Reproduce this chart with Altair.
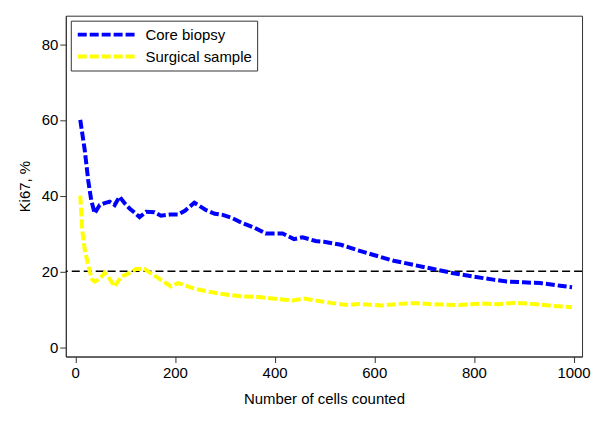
import altair as alt
import pandas as pd

core_n = [10, 19, 26, 32, 39, 49, 59, 69, 79, 89, 99, 109, 119, 129, 142, 159, 172, 190, 206, 220,
          239, 262, 280, 296, 316, 336, 360, 382, 400, 416, 439, 456, 482, 499, 533, 566, 599, 639,
          679, 719, 759, 799, 839, 866, 899, 933, 973, 997]
core_v = [60, 52, 44, 38.8, 35.3, 37.5, 38, 38.4, 37.5, 39.7, 38, 36.6, 35.5, 34.3, 35.7, 35.6, 34.7, 35, 35, 36,
          38.1, 36.2, 35.2, 34.9, 34, 32.7, 31.5, 30, 30, 30, 28.5, 29, 28, 27.8, 27, 25.6, 24.3, 22.8,
          21.7, 20.6, 19.5, 18.6, 17.8, 17.3, 17.1, 16.9, 16.2, 15.8]

surg_n = [10, 14, 19, 28, 34, 39, 49, 59, 69, 79, 92, 102, 122, 139, 162, 192, 206, 242, 289, 332,
          369, 396, 436, 459, 482, 516, 549, 569, 616, 649, 683, 716, 769, 816, 849, 883, 916, 956, 997]
surg_v = [40, 30.9, 25.7, 20.4, 17.8, 17.3, 18, 19.6, 18, 16, 18.6, 19.1, 20.6, 20.6, 18.6, 16, 16.9, 15.3, 14.1, 13.4,
          13.2, 12.8, 12.3, 12.8, 12.3, 11.6, 11.1, 11.4, 11, 11.4, 11.6, 11.3, 11.1, 11.5, 11.3, 11.7, 11.4, 10.9, 10.5]

series_names = ["Core biopsy", "Surgical sample"]
series_colors = ["#0000FF", "#FFFF00"]
threshold = [20]
x_ticks = [0, 200, 400, 600, 800, 1000]
y_ticks = [0, 20, 40, 60, 80]

df = pd.concat([
    pd.DataFrame({"n": core_n, "v": core_v, "series": series_names[0], "order": 0}),
    pd.DataFrame({"n": surg_n, "v": surg_v, "series": series_names[1], "order": 1}),
])
ref = pd.DataFrame({"y": threshold})

FONT = "Liberation Sans"

x_enc = alt.X("n:Q", scale=alt.Scale(domain=[-19, 1017], nice=False, zero=False),
              axis=alt.Axis(values=x_ticks, format="d", title="Number of cells counted", grid=False,
                            titlePadding=11, labelPadding=3))
y_enc = alt.Y("v:Q", scale=alt.Scale(domain=[-2.5, 87.5], nice=False, zero=False),
              axis=alt.Axis(values=y_ticks, format="d", title="Ki67, %", grid=False, titlePadding=9,
                            labelPadding=2))

lines = alt.Chart(df).mark_line(strokeWidth=4, strokeDash=[9, 3]).encode(
    x=x_enc,
    y=y_enc,
    color=alt.Color("series:N",
                    scale=alt.Scale(domain=series_names, range=series_colors),
                    legend=alt.Legend(title=None, orient="none", legendX=5, legendY=5,
                                      direction="vertical",
                                      symbolType="stroke", symbolSize=3481,
                                      symbolStrokeWidth=4, symbolDash=[9, 3],
                                      labelFontSize=15, labelFont=FONT, labelColor="black",
                                      labelOffset=7, padding=5, rowPadding=4, clipHeight=18,
                                      strokeColor="#333", fillColor="white")),
    detail="series:N",
    order="order:Q",
)

rule = alt.Chart(ref).mark_rule(color="black", strokeWidth=1.5, strokeDash=[8, 4]).encode(
    y=alt.Y("y:Q")
)

chart = alt.layer(rule, lines).properties(
    width=518, height=342,
    autosize=alt.AutoSizeParams(type="none"),
    padding={"left": 58, "top": 7, "right": 10, "bottom": 70},
    background="white",
).configure_view(
    stroke="#333", strokeWidth=1
).configure_axis(
    domainColor="#333", tickColor="#333", tickSize=6,
    labelFont=FONT, labelFontSize=15, labelColor="black",
    titleFont=FONT, titleFontSize=15, titleFontWeight="normal", titleColor="black",
)

chart.save("out.html", embed_options={"renderer": "svg", "actions": False})
